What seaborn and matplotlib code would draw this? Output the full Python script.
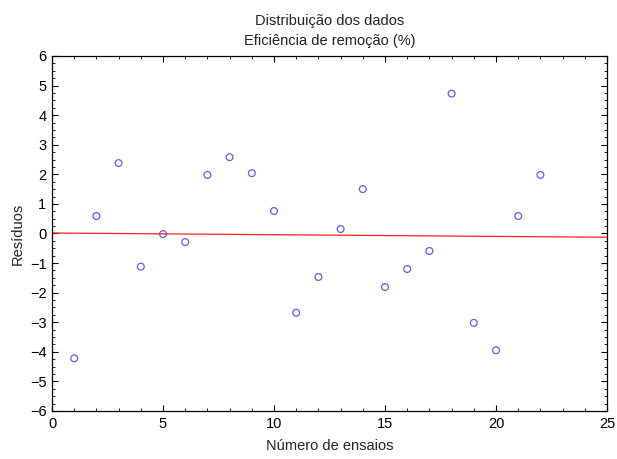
import numpy as np
import pandas as pd
import seaborn as sns
import matplotlib
matplotlib.use("Agg")
import matplotlib.pyplot as plt
from matplotlib.ticker import MultipleLocator

ensaios = list(range(1, 23))
residuos = [-4.22, 0.59, 2.38, -1.12, -0.02, -0.29, 1.98, 2.58, 2.04, 0.76, -2.68,
            -1.47, 0.15, 1.5, -1.81, -1.2, -0.59, 4.73, -3.02, -3.95, 0.59, 1.98]

df = pd.DataFrame({"ensaio": ensaios, "residuo": residuos})

sns.set_theme(style="white")
plt.rcParams['font.family'] = ['Liberation Sans', 'DejaVu Sans']

fig = plt.figure(figsize=(6.17, 4.59), dpi=100)
ax = fig.add_axes([0.0843, 0.1046, 0.8995, 0.7734])
ax.set_xlim(0, 25)
ax.set_ylim(-6, 6)

sns.regplot(data=df, x="ensaio", y="residuo", ax=ax, ci=None, truncate=False,
            scatter_kws=dict(s=24, facecolors="none", edgecolors="#3333ff", linewidths=0.9),
            line_kws=dict(color="#ff2020", lw=0.9), marker="o")

ax.set_xlim(0, 25)
ax.set_ylim(-6, 6)
ax.xaxis.set_major_locator(MultipleLocator(5))
ax.xaxis.set_minor_locator(MultipleLocator(1))
ax.yaxis.set_major_locator(MultipleLocator(1))
ax.yaxis.set_minor_locator(MultipleLocator(0.25))
ax.tick_params(which="both", direction="in", top=True, right=True, bottom=True, left=True,
               colors="black", labelsize=10.5, pad=4)
ax.tick_params(which="major", length=4, width=0.8)
ax.tick_params(which="minor", length=2, width=0.6)
for s in ax.spines.values():
    s.set_color("black")
    s.set_linewidth(0.9)

ax.set_xlabel("Número de ensaios", fontsize=10.5, color="#222222", labelpad=6)
ax.set_ylabel("Resíduos", fontsize=10.5, color="#222222", labelpad=4)
ax.set_title("Distribuição dos dados\nEficiência de remoção (%)", fontsize=10.5,
             color="#222222", pad=8, linespacing=1.5)

fig.savefig("out.png", dpi=100, facecolor="white")
